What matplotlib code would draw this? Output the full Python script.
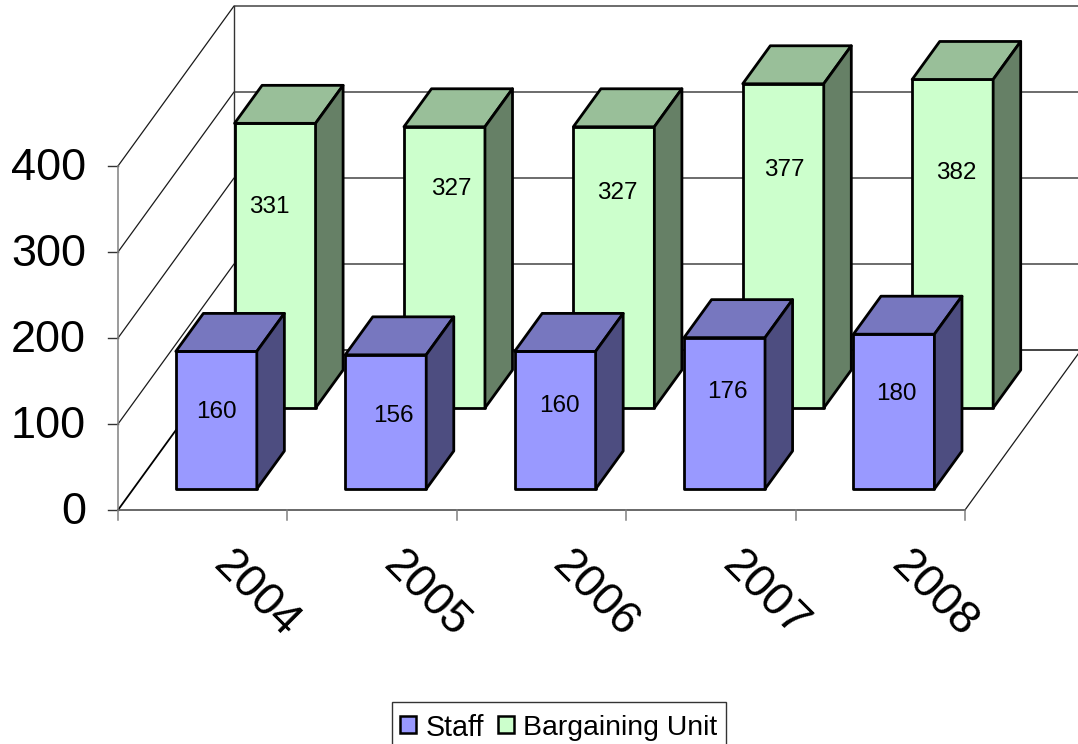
import matplotlib
matplotlib.use("Agg")
import matplotlib.pyplot as plt
from matplotlib.patches import Polygon, Rectangle

plt.rcParams['font.family'] = ['Liberation Sans', 'DejaVu Sans']

years = ["2004", "2005", "2006", "2007", "2008"]
staff = [160, 156, 160, 176, 180]
bargaining = [331, 327, 327, 377, 382]
y_ticks = [0, 100, 200, 300, 400]

staff_colors = ("#9999FF", "#7777BF", "#4D4D80")
bargaining_colors = ("#CCFFCC", "#99BF99", "#668066")

# label nudges, excel moved these around by hand
staff_nudge = [(0, -8), (8, -6), (4, -14), (3, -21), (2, -18)]
bargaining_nudge = [(-6, -59), (7, -78), (3, -74), (1, -76), (4, -71)]

# projection of the 3d box onto pixels
X0, Y0 = 118, 510
SLOT = 169.4
PX_PER_UNIT = 0.86
WALL_DX, WALL_DY = 116, -160
BAR_W = 81
BAR_GAP = 42.6
BAR_DEPTH = 0.2375


def project(x, value, depth):
    return (X0 + x + WALL_DX * depth, Y0 - value * PX_PER_UNIT + WALL_DY * depth)


def draw_bar(ax, i, value, depth, colors, nudge):
    left = i * SLOT + BAR_GAP
    right = left + BAR_W
    d2 = depth + BAR_DEPTH
    front = [project(left, 0, depth), project(right, 0, depth),
             project(right, value, depth), project(left, value, depth)]
    top = [project(left, value, depth), project(right, value, depth),
           project(right, value, d2), project(left, value, d2)]
    side = [project(right, 0, depth), project(right, 0, d2),
            project(right, value, d2), project(right, value, depth)]
    for pts, c in zip((front, top, side), colors):
        ax.add_patch(Polygon(pts, closed=True, facecolor=c, edgecolor="black",
                             linewidth=2.0, joinstyle="round", zorder=3))
    cx, cy = project((left + right) / 2, value / 2, depth)
    ax.text(cx + nudge[0], cy + nudge[1], str(value), fontsize=17.5,
            ha="center", va="center", zorder=4)


fig = plt.figure(figsize=(10.78, 7.44), dpi=100)
ax = fig.add_axes([0, 0, 1, 1])
ax.set_xlim(0, 1078)
ax.set_ylim(744, 0)
ax.axis("off")

width = SLOT * len(years)

# walls and floor
for v in y_ticks:
    x1, y1 = project(0, v, 0)
    x2, y2 = project(0, v, 1)
    x3, y3 = project(width, v, 1)
    if v == 0:
        ax.plot([x1, x2], [y1, y2], color="black", lw=1.3, zorder=1)
        ax.plot([x2, x3], [y2, y3], color="#111111", lw=1.1, zorder=1)
    else:
        ax.plot([x1, x2, x3], [y1, y2, y3], color="#1A1A1A", lw=0.9, zorder=1)
    ax.plot([x1 - 10, x1], [y1, y1], color="#333333", lw=1.0, zorder=1)
    ax.text(86, y1 + 3, str(v), fontsize=32.5, ha="right", va="center")

ax.plot(*zip(project(0, 0, 1), project(0, y_ticks[-1], 1)), color="#333333", lw=1.0, zorder=1)
ax.plot(*zip(project(0, 0, 0), project(0, y_ticks[-1], 0)), color="#808080", lw=1.1, zorder=1)
ax.plot(*zip(project(0, 0, 0), project(width, 0, 0)), color="#404040", lw=1.1, zorder=1)
ax.plot(*zip(project(width, 0, 0), project(width, 0, 1)), color="#1A1A1A", lw=0.9, zorder=1)

# x ticks and year labels
for i in range(len(years) + 1):
    x, y = project(i * SLOT, 0, 0)
    ax.plot([x, x], [y, y + 10], color="#808080", lw=1.1, zorder=1)
for i, yr in enumerate(years):
    x, y = project((i + 0.5) * SLOT, 0, 0)
    ax.text(x + 54, y + 85, yr, fontsize=33, rotation=-45, ha="center", va="center")

# green row sits behind the blue one
for i, v in enumerate(bargaining):
    draw_bar(ax, i, v, 102 / 160, bargaining_colors, bargaining_nudge[i])
for i, v in enumerate(staff):
    draw_bar(ax, i, v, 21 / 160, staff_colors, staff_nudge[i])

# legend, the box runs off the bottom of the picture
ax.add_patch(Rectangle((392, 702), 333.5, 60, facecolor="white", edgecolor="#333333", lw=1.0, zorder=5))
ax.add_patch(Rectangle((400, 716), 16, 17, facecolor=staff_colors[0], edgecolor="black", lw=1.8, zorder=6))
ax.text(426, 728, "Staff", fontsize=20.6, ha="left", va="center", zorder=6)
ax.add_patch(Rectangle((498, 716), 16, 17, facecolor=bargaining_colors[0], edgecolor="black", lw=1.8, zorder=6))
ax.text(523, 728, "Bargaining Unit", fontsize=20.4, ha="left", va="center", zorder=6)

fig.savefig("out.png", dpi=100)
